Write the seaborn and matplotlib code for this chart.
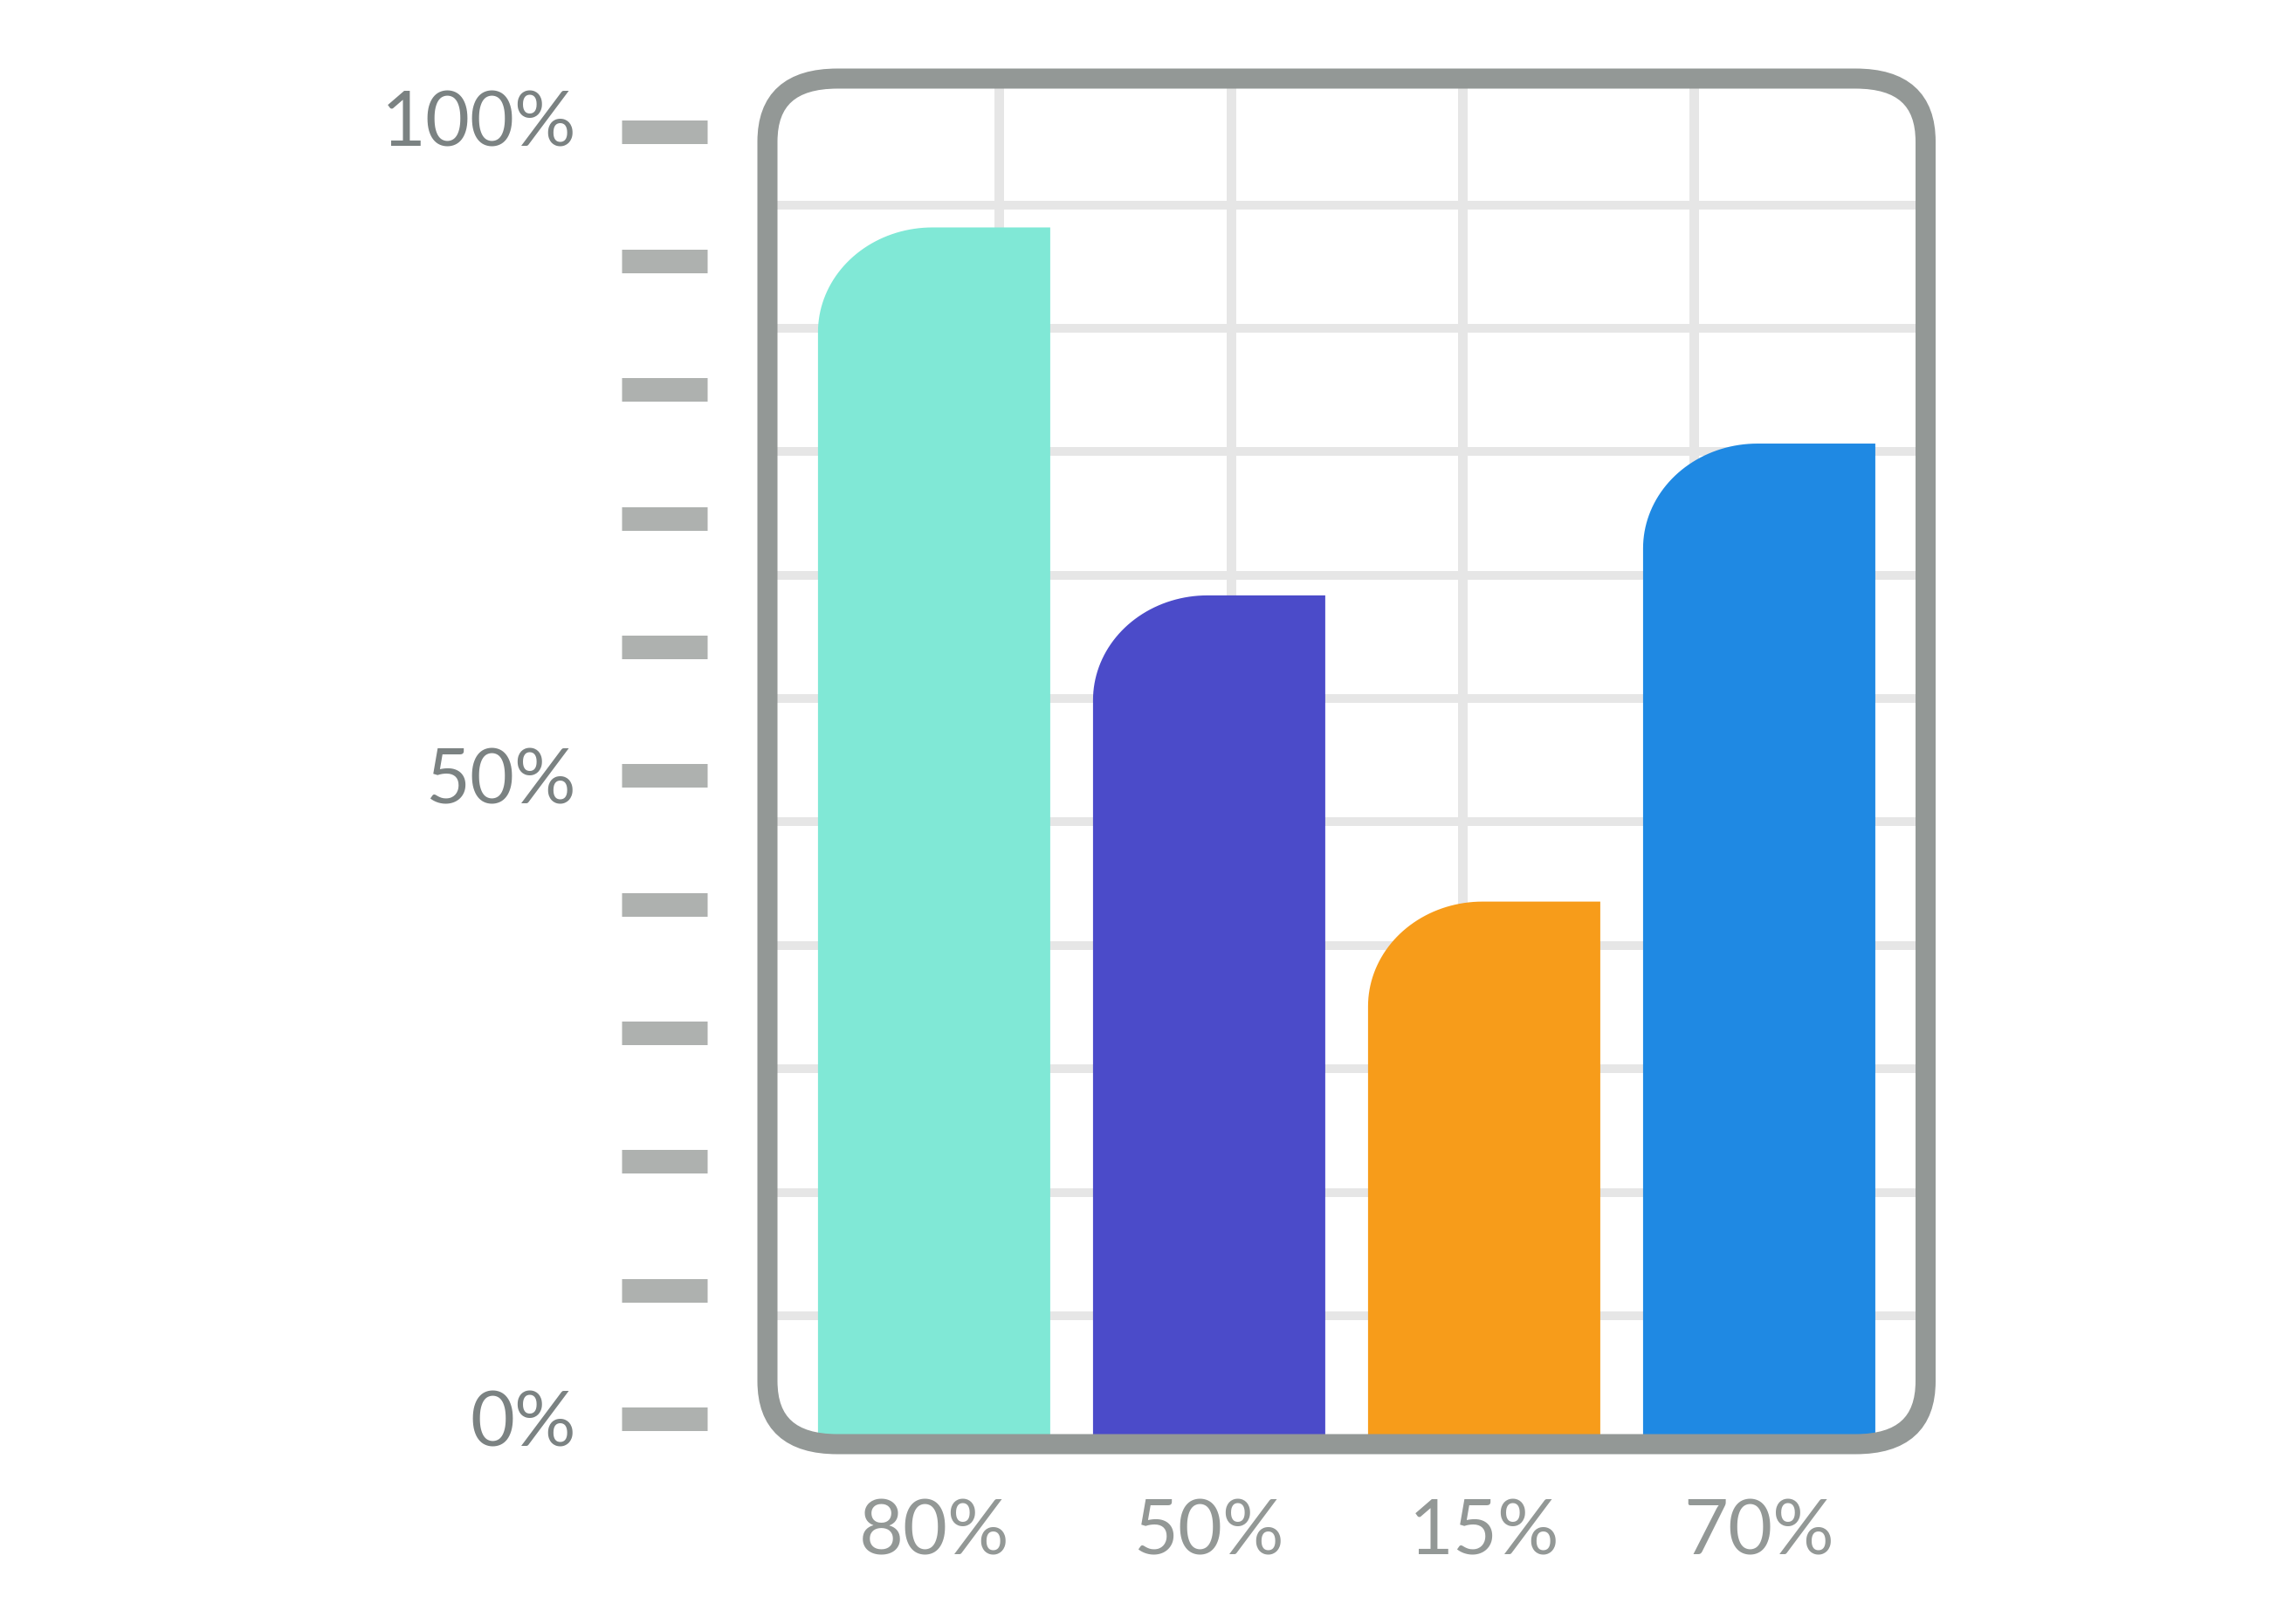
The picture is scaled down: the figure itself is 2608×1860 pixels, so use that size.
import numpy as np
import matplotlib
matplotlib.use("Agg")
import matplotlib.pyplot as plt
import matplotlib.transforms as mtransforms
from matplotlib.path import Path
from matplotlib.patches import PathPatch, FancyBboxPatch
import seaborn as sns

# ---- data ----
categories = ["80%", "50%", "15%", "70%"]
bar_values = [92.6, 64.0, 40.2, 75.8]
bar_colors = ["#80E8D6", "#4B4BC9", "#F79C1A", "#1F89E3"]
tick_values = [0, 10, 20, 30, 40, 50, 60, 70, 80, 90, 100]
tick_labels = ["0%", "", "", "", "", "50%", "", "", "", "", "100%"]

DPI = 200
W, H = 2608, 1860
PT = 72.0 / DPI  # points per pixel

sns.set_theme(style="white")
plt.rcParams["font.family"] = ["Lato", "DejaVu Sans"]

fig = plt.figure(figsize=(W / DPI, H / DPI), dpi=DPI)
fig.patch.set_facecolor("white")

# axes = rounded frame area (centre line of the frame)
left_px, right_px, top_px, bot_px = 879, 2205.5, 90, 1654
ax = fig.add_axes([left_px / W, 1 - bot_px / H, (right_px - left_px) / W, (bot_px - top_px) / H])
ax.set_facecolor("none")

sns.barplot(x=categories, y=bar_values, hue=categories, palette=bar_colors,
            legend=False, width=0.8444, saturation=1, ax=ax)

ax.set_xlim(-0.606, 3.605)
ax.set_ylim(-1.97, 104.17)

# replace the rectangles by bars with a rounded top-left corner
base = -1.29
rx, ry = 0.416, 8.14
t = np.linspace(np.pi, np.pi / 2, 40)
for p, col in zip(list(ax.patches), bar_colors):
    x0 = p.get_x()
    w = p.get_width()
    top = p.get_height()
    p.set_visible(False)
    arc_x = x0 + rx + rx * np.cos(t)
    arc_y = top - ry + ry * np.sin(t)
    xs = np.concatenate([[x0], arc_x, [x0 + w, x0 + w, x0]])
    ys = np.concatenate([[base], arc_y, [top, base, base]])
    verts = np.column_stack([xs, ys])
    codes = [Path.MOVETO] + [Path.LINETO] * (len(verts) - 2) + [Path.CLOSEPOLY]
    ax.add_patch(PathPatch(Path(verts, codes), facecolor=col, edgecolor="none", zorder=2))

# grid (inside frame)
grid_col = "#E6E6E6"
for k in range(1, 5):
    ax.plot([k / 5, k / 5], [0, 1], transform=ax.transAxes, color=grid_col,
            lw=11 * PT, zorder=1, solid_capstyle="butt")
hy_px = np.linspace(234.5, 1507, 10)
for y in hy_px:
    ya = (bot_px - y) / (bot_px - top_px)
    ax.plot([0, 1], [ya, ya], transform=ax.transAxes, color=grid_col,
            lw=10 * PT, zorder=1, solid_capstyle="butt")

# rounded frame
wpx = right_px - left_px
hpx = bot_px - top_px
r = 80 / wpx
asp = (72 / hpx) / r
frame = FancyBboxPatch((0, 0), 1, 1, boxstyle=f"round,pad=0,rounding_size={r}",
                       mutation_aspect=asp, transform=ax.transAxes, fill=False,
                       lw=23 * PT, ec="#939896", clip_on=False, zorder=5)
ax.add_patch(frame)

for s in ax.spines.values():
    s.set_visible(False)
ax.spines["left"].set_position(("outward", 69 * PT))

# y ticks as grey bars
ax.set_yticks(tick_values)
ax.set_yticklabels(tick_labels)
ax.tick_params(axis="y", direction="out", length=98 * PT, width=27 * PT,
               color="#AEB1AF", pad=52 * PT, labelsize=88 * PT,
               labelcolor="#7B8282", left=True)
for lab in ax.get_yticklabels():
    lab.set_fontweight("normal")
ticks = ax.yaxis.get_major_ticks()
ticks[-1].label1.set_transform(ticks[-1].label1.get_transform() +
                               mtransforms.ScaledTranslation(0, 16 / DPI, fig.dpi_scale_trans))

# x labels
ax.tick_params(axis="x", length=0, pad=62 * PT, labelsize=88 * PT, labelcolor="#939896")
for lab in ax.get_xticklabels():
    lab.set_fontweight("normal")
ax.set_xlabel("")
ax.set_ylabel("")
ax.grid(False)

fig.savefig("out.png", dpi=DPI, facecolor="white")
